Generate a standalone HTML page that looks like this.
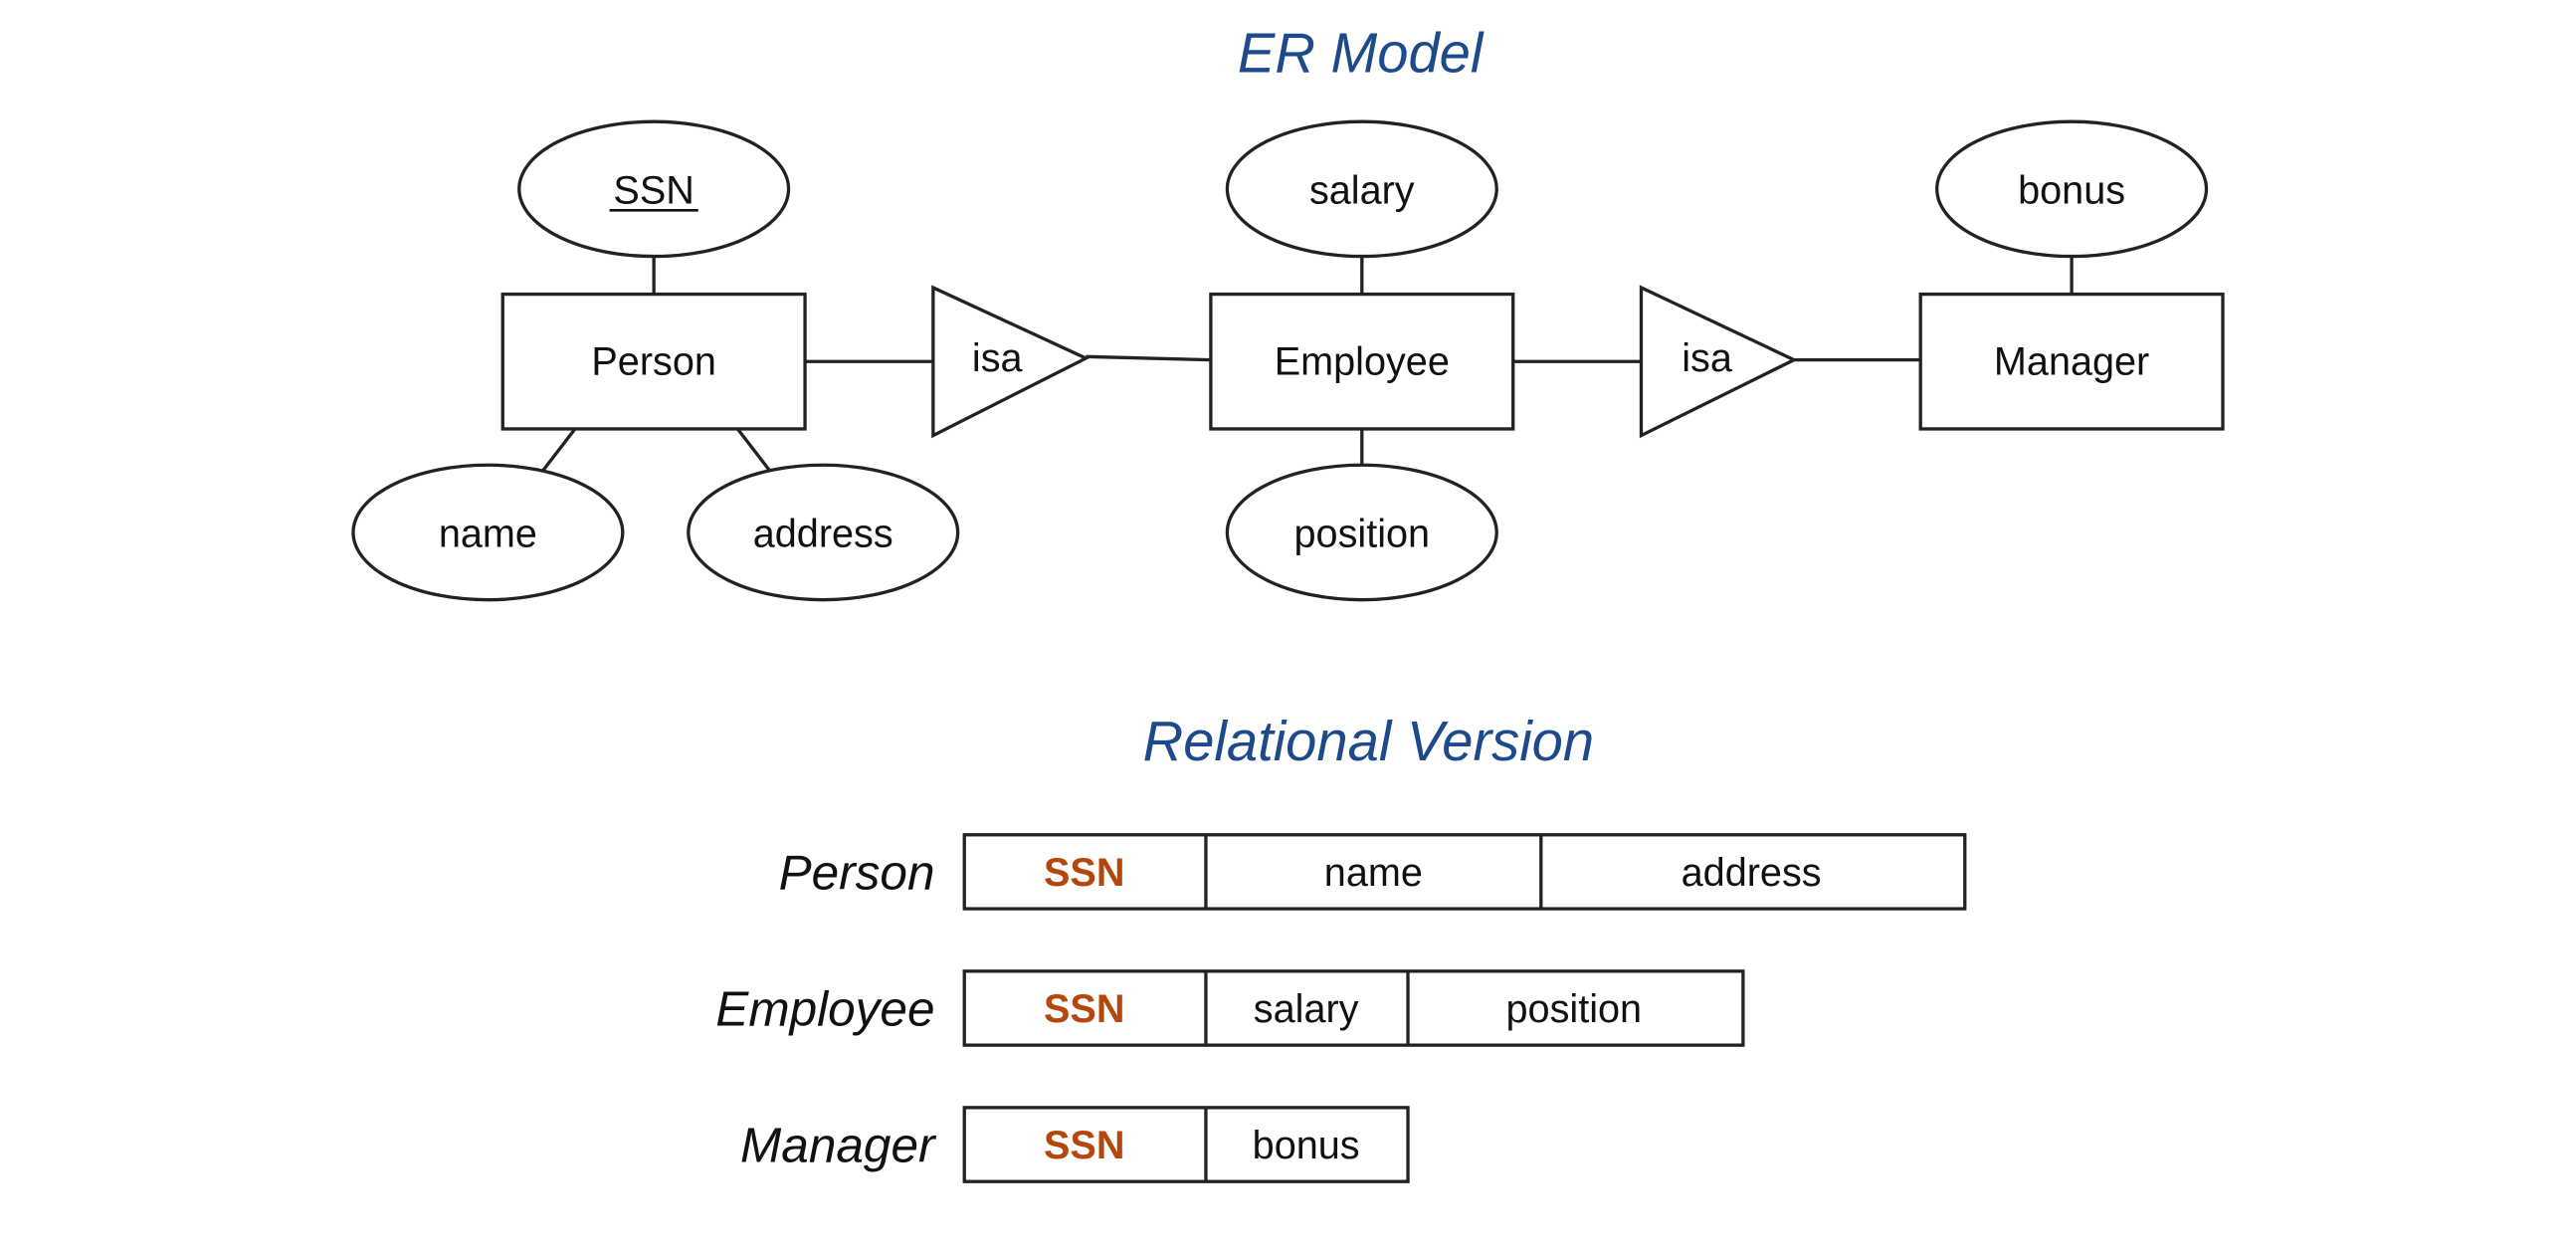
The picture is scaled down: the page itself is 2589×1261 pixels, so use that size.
<!DOCTYPE html>
<html><head><meta charset="utf-8"><style>html,body{margin:0;padding:0;background:#fff;}svg{display:block}</style></head>
<body>
<svg width="2589" height="1261" viewBox="0 0 1568 763.7" xmlns="http://www.w3.org/2000/svg" font-family="'Liberation Sans', sans-serif">
<rect width="1568" height="764" fill="#fff"/>
<g fill="#fff" stroke="#222" stroke-width="2">
<line x1="398" y1="156" x2="398" y2="179"/>
<line x1="829" y1="156" x2="829" y2="179"/>
<line x1="1261" y1="156" x2="1261" y2="179"/>
<line x1="829" y1="261" x2="829" y2="283"/>
<line x1="350" y1="261" x2="330" y2="287"/>
<line x1="449" y1="261" x2="469" y2="287"/>
<line x1="490" y1="220" x2="568" y2="220"/>
<line x1="661" y1="217" x2="737" y2="219"/>
<line x1="921" y1="220" x2="999" y2="220"/>
<line x1="1092" y1="219" x2="1169" y2="219"/>
<ellipse cx="398" cy="115" rx="82" ry="41"/>
<ellipse cx="829" cy="115" rx="82" ry="41"/>
<ellipse cx="1261" cy="115" rx="82" ry="41"/>
<ellipse cx="297" cy="324" rx="82" ry="41"/>
<ellipse cx="501" cy="324" rx="82" ry="41"/>
<ellipse cx="829" cy="324" rx="82" ry="41"/>
<rect x="306" y="179" width="184" height="82"/>
<rect x="737" y="179" width="184" height="82"/>
<rect x="1169" y="179" width="184" height="82"/>
<polygon points="568,175 568,265 661,218"/>
<polygon points="999,175 999,265 1092,219"/>
<rect x="587" y="508" width="609" height="45"/>
<line x1="734" y1="508" x2="734" y2="553"/><line x1="938" y1="508" x2="938" y2="553"/>
<rect x="587" y="591" width="474" height="45"/>
<line x1="734" y1="591" x2="734" y2="636"/><line x1="857" y1="591" x2="857" y2="636"/>
<rect x="587" y="674" width="270" height="45"/>
<line x1="734" y1="674" x2="734" y2="719"/>
</g>
<g font-size="24" fill="#111" text-anchor="middle" dominant-baseline="central">
<text x="398" y="116">SSN</text>
<line x1="371" y1="128" x2="425" y2="128" stroke="#111" stroke-width="1.6"/>
<text x="829" y="116">salary</text>
<text x="1261" y="116">bonus</text>
<text x="297" y="325">name</text>
<text x="501" y="325">address</text>
<text x="829" y="325">position</text>
<text x="398" y="220">Person</text>
<text x="829" y="220">Employee</text>
<text x="1261" y="220">Manager</text>
<text x="607" y="218">isa</text>
<text x="1039" y="218">isa</text>
<text x="836" y="531">name</text>
<text x="1066" y="531">address</text>
<text x="795" y="614">salary</text>
<text x="958" y="614">position</text>
<text x="795" y="697">bonus</text>
<g fill="#b5470d" font-weight="bold">
<text x="660" y="531">SSN</text><text x="660" y="614">SSN</text><text x="660" y="697">SSN</text>
</g>
</g>
<g font-size="30" font-style="italic" fill="#111" text-anchor="end" dominant-baseline="central">
<text x="569" y="531">Person</text>
<text x="569" y="614">Employee</text>
<text x="569" y="697">Manager</text>
</g>
<g font-size="34" font-style="italic" fill="#1c4a8a" text-anchor="middle" dominant-baseline="central">
<text x="828" y="32">ER Model</text>
<text x="833" y="451">Relational Version</text>
</g>
</svg>
</body></html>
